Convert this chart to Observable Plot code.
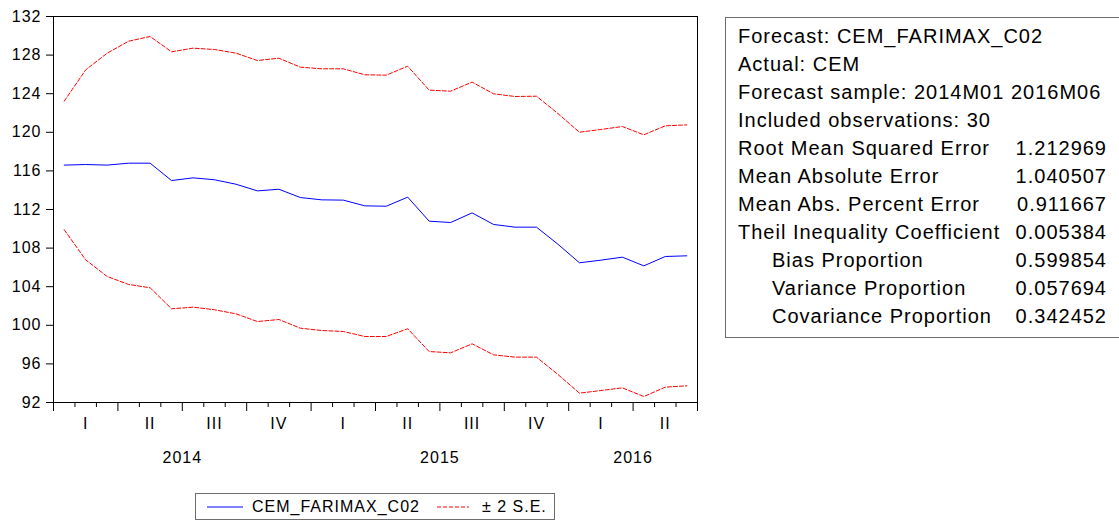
<!DOCTYPE html>
<html>
<head>
<meta charset="utf-8">
<script src="https://cdn.jsdelivr.net/npm/d3@7"></script>
<script src="https://cdn.jsdelivr.net/npm/@observablehq/plot@0.6"></script>
<style>
  html, body { margin: 0; padding: 0; background: #fff; }
  body { width: 1119px; height: 522px; position: relative; overflow: hidden;
         font-family: "Liberation Sans", Arial, sans-serif; color: #000; }
  #chart { position: absolute; left: 0; top: 0; }
  #stats { position: absolute; left: 725px; top: 17px; width: 400px; height: 321px;
           box-sizing: border-box; border: 1px solid #6e6e6e; padding: 4px 0 0 12px;
           font-size: 20px; letter-spacing: 1px; line-height: 28px; }
  #stats .row { display: flex; width: 369px; justify-content: space-between; white-space: nowrap; }
  #stats .row.ind span:first-child { padding-left: 34px; }
  #legend { position: absolute; left: 195px; top: 493px; width: 360px; height: 27px;
            box-sizing: border-box; border: 1px solid #6e6e6e; font-size: 16px; letter-spacing: 1px; }
  #legend .item { position: absolute; top: 0; height: 25px; display: flex; align-items: center; }
</style>
</head>
<body>
<div id="chart"></div>
<div id="stats"></div>
<div id="legend">
  <div class="item" style="left:11px"><svg width="36" height="4"><line x1="0" x2="36" y1="2" y2="2" stroke="#0000ff" stroke-width="1"/></svg><span style="margin-left:9px">CEM_FARIMAX_C02</span></div>
  <div class="item" style="left:241px"><svg width="32" height="4"><line x1="0" x2="32" y1="2" y2="2" stroke="#ff0000" stroke-width="1" stroke-dasharray="4,2"/></svg><span style="margin-left:13px">± 2 S.E.</span></div>
</div>
<script>
// ---- data ----
const months = ["2014M01","2014M02","2014M03","2014M04","2014M05","2014M06","2014M07","2014M08","2014M09","2014M10","2014M11","2014M12",
                "2015M01","2015M02","2015M03","2015M04","2015M05","2015M06","2015M07","2015M08","2015M09","2015M10","2015M11","2015M12",
                "2016M01","2016M02","2016M03","2016M04","2016M05","2016M06"];
const forecast = [116.60,116.66,116.60,116.80,116.80,115.00,115.28,115.08,114.62,113.93,114.10,113.24,
                  113.00,112.97,112.38,112.34,113.28,110.79,110.65,111.65,110.45,110.17,110.17,108.40,
                  106.48,106.75,107.06,106.16,107.13,107.20];
const upper = [123.23,126.47,128.20,129.44,129.93,128.34,128.72,128.58,128.20,127.44,127.68,126.75,
               126.58,126.58,125.96,125.92,126.85,124.37,124.26,125.20,123.99,123.71,123.74,121.94,
               120.01,120.29,120.60,119.74,120.67,120.77];
const lower = [109.90,106.78,105.06,104.23,103.89,101.71,101.88,101.61,101.19,100.39,100.60,99.70,
               99.46,99.36,98.84,98.84,99.64,97.28,97.15,98.08,96.94,96.70,96.70,94.90,
               92.97,93.24,93.52,92.62,93.59,93.73];
const yTicks = [92,96,100,104,108,112,116,120,124,128,132];
const quarterLabels = ["I","II","III","IV","I","II","III","IV","I","II"];
const yearLabels = ["2014","2015","2016"];

const statsLabels = ["Forecast: CEM_FARIMAX_C02","Actual: CEM","Forecast sample: 2014M01 2016M06","Included observations: 30",
                     "Root Mean Squared Error","Mean Absolute Error","Mean Abs. Percent Error","Theil Inequality Coefficient",
                     "Bias Proportion","Variance Proportion","Covariance Proportion"];
const statsValues = ["","","","","1.212969","1.040507","0.911667","0.005384","0.599854","0.057694","0.342452"];
const statsIndent = [false,false,false,false,false,false,false,false,true,true,true];

// ---- build tables ----
const data = months.map((m, i) => ({m, pos: i + 0.5, forecast: forecast[i], upper: upper[i], lower: lower[i]}));
const monthEdges = d3.range(0, months.length + 1);
const minorEdges = monthEdges.filter(d => d % 3 !== 0);
const majorEdges = monthEdges.filter(d => d % 3 === 0);
const quarters = quarterLabels.map((label, k) => ({label, pos: k * 3 + 1.5}));
const years = yearLabels.map(label => {
  const idx = months.map((m, i) => m.startsWith(label) ? i : -1).filter(i => i >= 0);
  return {label, pos: (idx[0] + idx[idx.length - 1] + 1) / 2};
});

const plot = Plot.plot({
  width: 700,
  height: 480,
  marginLeft: 53,
  marginRight: 3,
  marginTop: 16,
  marginBottom: 78,
  style: {fontFamily: "'Liberation Sans', Arial, sans-serif", fontSize: "16px", color: "#000", letterSpacing: "1px", background: "transparent", overflow: "visible"},
  x: {type: "linear", domain: [0, months.length]},
  y: {domain: [92, 132]},
  marks: [
    Plot.axisY(yTicks, {tickSize: 7, tickPadding: 5, fontSize: 16, label: null, tickFormat: d => String(d)}),
    Plot.axisX(minorEdges, {tickSize: 5, tickFormat: () => "", label: null}),
    Plot.axisX(majorEdges, {tickSize: 9, tickFormat: () => "", label: null}),
    Plot.text(quarters, {x: "pos", text: "label", frameAnchor: "bottom", dy: 21, fontSize: 16, lineAnchor: "middle"}),
    Plot.text(years, {x: "pos", text: "label", frameAnchor: "bottom", dy: 55, fontSize: 16, lineAnchor: "middle"}),
    Plot.line(data, {x: "pos", y: "upper", stroke: "#ff0000", strokeWidth: 1, strokeDasharray: "4,2"}),
    Plot.line(data, {x: "pos", y: "lower", stroke: "#ff0000", strokeWidth: 1, strokeDasharray: "4,2"}),
    Plot.line(data, {x: "pos", y: "forecast", stroke: "#0000ff", strokeWidth: 1}),
    Plot.frame({stroke: "#000", strokeWidth: 1})
  ]
});
document.getElementById("chart").appendChild(plot);

const stats = document.getElementById("stats");
statsLabels.forEach((lab, i) => {
  const row = document.createElement("div");
  row.className = "row" + (statsIndent[i] ? " ind" : "");
  const a = document.createElement("span"); a.textContent = lab;
  const b = document.createElement("span"); b.textContent = statsValues[i];
  row.appendChild(a); row.appendChild(b);
  stats.appendChild(row);
});
</script>
</body>
</html>
